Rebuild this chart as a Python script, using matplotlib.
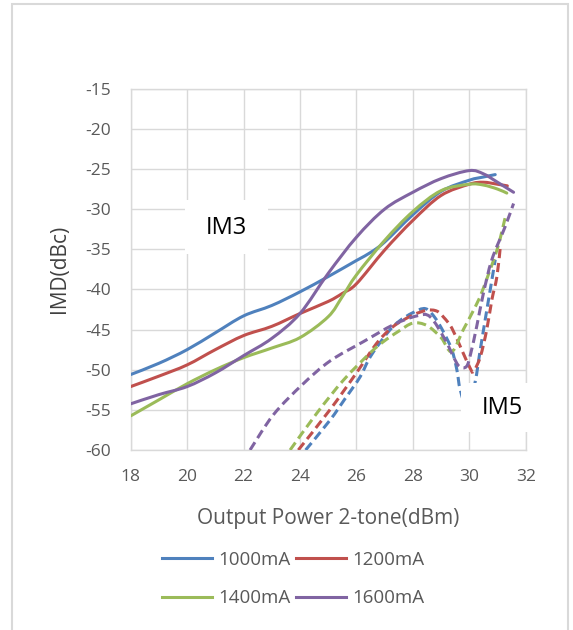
import numpy as np
import matplotlib
matplotlib.use("Agg")
import matplotlib.pyplot as plt
from matplotlib.patches import Rectangle, PathPatch
from matplotlib.path import Path
from matplotlib.lines import Line2D

plt.rcParams['font.family'] = ['Open Sans', 'DejaVu Sans']
plt.rcParams['axes.unicode_minus'] = False

# IM3 curves (solid), output power in dBm vs IMD in dBc
im3_x_1000 = [18, 19, 20, 21, 22, 23, 24, 25, 26, 26.5, 27, 28, 29, 30, 30.5, 30.92]
im3_y_1000 = [-50.6, -49.2, -47.5, -45.4, -43.3, -42.0, -40.3, -38.4, -36.4, -35.4, -34.1, -30.7, -27.8, -26.4, -26.0, -25.7]

im3_x_1200 = [18, 19, 20, 21, 22, 23, 24, 25, 25.5, 26, 27, 28, 29, 30, 30.5, 31, 31.35]
im3_y_1200 = [-52.1, -50.8, -49.4, -47.5, -45.75, -44.6, -43.0, -41.5, -40.5, -39.3, -35.1, -31.4, -28.3, -26.9, -26.65, -26.9, -27.1]

im3_x_1400 = [18, 19, 20, 21, 22, 23, 24, 25, 25.5, 26, 27, 28, 29, 30, 30.5, 31, 31.33]
im3_y_1400 = [-55.75, -53.75, -51.75, -50.0, -48.5, -47.3, -46.0, -43.4, -40.9, -38.2, -33.9, -30.3, -27.7, -26.9, -27.0, -27.5, -28.0]

im3_x_1600 = [18, 19, 20, 21, 22, 23, 24, 25, 26, 27, 28, 29, 30, 30.5, 31, 31.57]
im3_y_1600 = [-54.25, -53.1, -52.1, -50.4, -48.25, -46.1, -43.0, -38.0, -33.5, -30.0, -27.9, -26.2, -25.2, -25.6, -26.65, -27.9]

# IM5 curves (dashed)
im5_x_1000 = [24.2, 25.06, 25.6, 26.13, 26.49, 27.08, 27.5, 28.0, 28.45, 28.8, 29.1, 29.38, 29.56, 29.68, 29.95, 30.21, 30.39, 30.62, 30.74, 30.92]
im5_y_1000 = [-60, -56.3, -53.6, -50.9, -48.4, -45.5, -44.0, -42.9, -42.4, -43.6, -45.4, -47.5, -50.0, -52.5, -55.0, -51.5, -47.5, -42.6, -40.1, -36.3]

im5_x_1200 = [23.94, 25.06, 26.0, 26.72, 27.31, 28.0, 28.5, 28.85, 29.1, 29.38, 29.73, 30.03, 30.15, 30.39, 30.62, 30.8, 30.98, 31.1]
im5_y_1200 = [-60, -55.0, -50.4, -46.7, -44.6, -43.2, -42.6, -42.7, -43.5, -44.8, -47.5, -49.8, -50.2, -48.4, -45.0, -41.3, -38.4, -34.7]

im5_x_1400 = [23.65, 24.6, 25.54, 26.49, 26.96, 27.5, 28.0, 28.5, 29.0, 29.38, 29.79, 30.15, 30.45, 30.98, 31.27]
im5_y_1400 = [-60, -55.4, -51.3, -47.9, -46.5, -45.2, -44.2, -44.5, -46.0, -47.75, -45.0, -42.6, -40.3, -35.1, -31.1]

im5_x_1600 = [22.23, 23.06, 24.1, 25.07, 26.25, 27.31, 28.14, 28.61, 29.15, 29.44, 29.65, 29.9, 30.05, 30.27, 30.5, 30.8, 31.27, 31.57]
im5_y_1600 = [-60, -55.6, -51.8, -48.9, -46.5, -44.4, -43.3, -43.4, -46.3, -48.4, -49.6, -49.6, -48.0, -44.5, -40.5, -36.3, -32.2, -29.3]

labels = ['1000mA', '1200mA', '1400mA', '1600mA']
colors = ['#4F81BD', '#C0504D', '#9BBB59', '#8064A2']

im3 = [(im3_x_1000, im3_y_1000), (im3_x_1200, im3_y_1200),
       (im3_x_1400, im3_y_1400), (im3_x_1600, im3_y_1600)]
im5 = [(im5_x_1000, im5_y_1000), (im5_x_1200, im5_y_1200),
       (im5_x_1400, im5_y_1400), (im5_x_1600, im5_y_1600)]


def smooth_path(x, y):
    # Catmull-Rom style bezier through the points (like a "smoothed line")
    pts = np.column_stack([x, y]).astype(float)
    n = len(pts)
    verts = [pts[0]]
    codes = [Path.MOVETO]
    for i in range(n - 1):
        p0 = pts[max(i - 1, 0)]
        p1 = pts[i]
        p2 = pts[i + 1]
        p3 = pts[min(i + 2, n - 1)]
        verts += [p1 + (p2 - p0) / 6, p2 - (p3 - p1) / 6, p2]
        codes += [Path.CURVE4] * 3
    return Path(verts, codes)


fig = plt.figure(figsize=(5.73, 6.30), dpi=100)
ax = fig.add_axes([130.7 / 573, 180 / 630, 395 / 573, 361.3 / 630])

grid_c = '#d9d9d9'
text_c = '#595959'
lw = 2.2

handles = []
for (x, y), c, lab in zip(im3, colors, labels):
    ax.add_patch(PathPatch(smooth_path(x, y), fill=False, edgecolor=c, lw=lw,
                           capstyle='round', joinstyle='round', zorder=3))
    handles.append(Line2D([], [], color=c, lw=lw, label=lab))
for (x, y), c in zip(im5, colors):
    ax.add_patch(PathPatch(smooth_path(x, y), fill=False, edgecolor=c, lw=lw,
                           ls=(0, (3, 1.6)), zorder=3))

ax.set_xlim(18, 32)
ax.set_ylim(-60, -15)
ax.set_xticks(range(18, 33, 2))
ax.set_yticks(range(-60, -14, 5))
ax.grid(True, color=grid_c, lw=1.0)
ax.set_axisbelow(True)
for sp in ax.spines.values():
    sp.set_color(grid_c)
    sp.set_linewidth(1.0)
ax.tick_params(length=0, pad=14, labelsize=12.5, labelcolor=text_c)

ax.set_xlabel('Output Power 2-tone(dBm)', fontsize=15, color=text_c, va='center')
ax.xaxis.set_label_coords(0.5, -0.19)
ax.set_ylabel('IMD(dBc)', fontsize=15, color='#404040', va='center')
ax.yaxis.set_label_coords(-0.179, 0.5)

# white label boxes sitting over the grid and curves
ax.add_patch(Rectangle((19.93, -35.6), 2.94, 6.73, facecolor='white',
                       edgecolor='none', zorder=4))
ax.text(21.38, -32.35, 'IM3', ha='center', va='center', fontsize=17,
        color='black', zorder=5)
ax.add_patch(Rectangle((29.72, -57.75), 2.5, 6.1, facecolor='white',
                       edgecolor='none', zorder=4, clip_on=False))
ax.text(31.16, -54.8, 'IM5', ha='center', va='center', fontsize=17,
        color='black', zorder=5)

order = [0, 2, 1, 3]
fig.legend([handles[i] for i in order], [labels[i] for i in order],
           ncol=2, loc='center', bbox_to_anchor=(0.511, 0.081), frameon=False,
           fontsize=13.5, handlelength=2.7, handletextpad=0.3,
           columnspacing=0.3, labelspacing=1.1, labelcolor=text_c)

# light border round the chart area
fig.patches.append(Rectangle((12 / 573, -0.05), (568 - 12) / 573, 1 - 4 / 630 + 0.05,
                             transform=fig.transFigure, fill=False,
                             edgecolor=grid_c, lw=1.5))

fig.savefig('out.png', dpi=100)
